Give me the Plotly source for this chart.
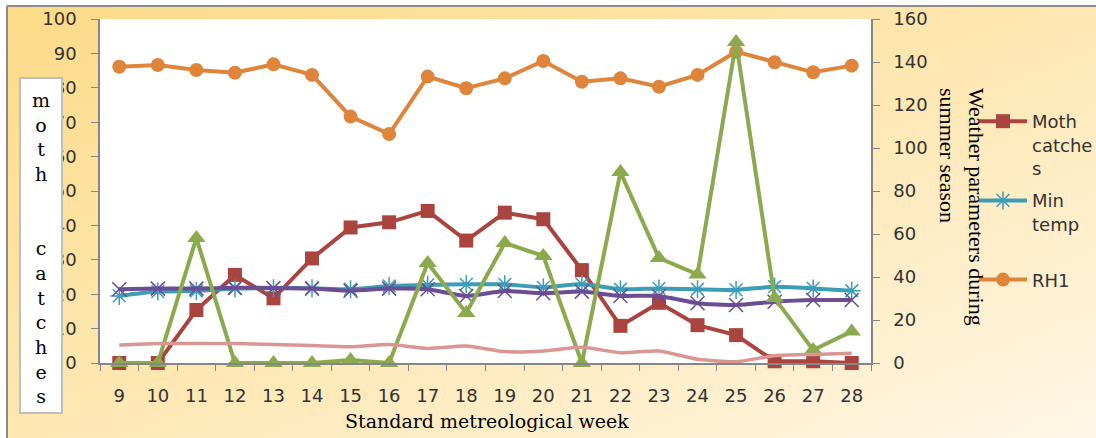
import base64
import plotly.graph_objects as go

# Standard meteorological weeks (summer season)
weeks = [str(w) for w in range(9, 29)]

# Moth catches per week (left axis)
moth_catches = [0, 0, 15.4, 25.6, 18.8, 30.4, 39.4, 40.9, 44.2, 35.6,
                43.7, 41.8, 27.0, 10.8, 17.5, 11.0, 8.1, 0.5, 0.5, 0]

# Weather parameters (right axis)
min_temp = [31.2, 33.2, 33.5, 34.6, 34.8, 34.8, 34.3, 35.8, 36.3, 36.6,
            36.6, 35.2, 36.7, 34.3, 34.7, 34.3, 34.0, 35.5, 34.7, 33.6]
rh1 = [137.8, 138.6, 136.3, 135.0, 138.9, 134.0, 114.6, 106.5, 133.2, 127.8,
       132.4, 140.5, 130.8, 132.4, 128.5, 134.0, 144.8, 139.9, 135.2, 138.3]
max_temp = [34.3, 34.6, 34.6, 35.0, 34.9, 34.6, 33.6, 34.6, 34.3, 31.2,
            33.5, 32.4, 33.2, 31.2, 31.2, 27.8, 27.0, 28.5, 29.3, 29.3]
rainfall = [0, 0, 58.1, 0, 0, 0, 1.4, 0, 46.5, 23.3,
            55.8, 49.8, 0, 88.8, 48.8, 41.2, 149.3, 30.2, 6.0, 14.7]
wind_speed = [8.4, 9.1, 9.1, 9.1, 8.6, 8.1, 7.6, 8.6, 6.8, 7.9,
              5.3, 5.6, 7.3, 4.8, 5.6, 1.7, 0.6, 3.4, 4.0, 4.5]

W, H = 1096, 438
ML, MR, MT, MB = 100, 225, 19, 75
PW, PH = W - ML - MR, H - MT - MB


def px(x):
    return (x - ML) / PW


def py(y):
    return (H - MB - y) / PH


SANS = "DejaVu Sans"
SERIF = "DejaVu Serif"
TEXT = "#333333"
AXIS = "#868686"

fig = go.Figure()

fig.add_trace(go.Scatter(
    x=weeks, y=moth_catches, name="Moth<br>catche<br>s", legendgroup="a",
    mode="lines+markers", cliponaxis=False,
    line=dict(color="#A9443F", width=4),
    marker=dict(symbol="square", size=14, color="#A9443F"),
))
fig.add_trace(go.Scatter(
    x=weeks, y=min_temp, name="Min<br>temp<br> ", legendgroup="b", yaxis="y2",
    mode="lines+markers", cliponaxis=False,
    line=dict(color="#3D9DB7", width=4, shape="spline", smoothing=0.6),
    marker=dict(symbol="asterisk-open", size=15,
                line=dict(color="#4BACC6", width=1.5)),
))
fig.add_trace(go.Scatter(
    x=weeks, y=rh1, name="RH1", legendgroup="c", yaxis="y2",
    mode="lines+markers", cliponaxis=False,
    line=dict(color="#DF843B", width=4),
    marker=dict(symbol="circle", size=14, color="#DF843B"),
))
fig.add_trace(go.Scatter(
    x=weeks, y=max_temp, name="Max temp", showlegend=False, yaxis="y2",
    mode="lines+markers", cliponaxis=False,
    line=dict(color="#6B4D95", width=4, shape="spline", smoothing=0.6),
    marker=dict(symbol="x-thin-open", size=14,
                line=dict(color="#A08CC6", width=1.5)),
))
fig.add_trace(go.Scatter(
    x=weeks, y=rainfall, name="Rainfall", showlegend=False, yaxis="y2",
    mode="lines+markers", cliponaxis=False,
    line=dict(color="#8BA94D", width=4),
    marker=dict(symbol="triangle-up", size=16, color="#8BA94D"),
))
fig.add_trace(go.Scatter(
    x=weeks, y=wind_speed, name="Wind speed", showlegend=False, yaxis="y2",
    mode="lines", cliponaxis=False,
    line=dict(color="#D99694", width=3.5, shape="spline", smoothing=0.6),
))

# Diagonal warm gradient behind the whole chart
svg = ("<svg xmlns='http://www.w3.org/2000/svg' width='1090' height='433' "
       "viewBox='0 0 1090 433' preserveAspectRatio='none'><defs>"
       "<linearGradient id='g' x1='0' y1='0' x2='1' y2='1'>"
       "<stop offset='0' stop-color='#FCDB88'/>"
       "<stop offset='0.5' stop-color='#FEE7B2'/>"
       "<stop offset='1' stop-color='#FFF6E6'/>"
       "</linearGradient></defs>"
       "<rect width='1090' height='433' fill='url(#g)'/></svg>")
svg_uri = "data:image/svg+xml;base64," + base64.b64encode(svg.encode()).decode()

shapes = [
    # white plotting area
    dict(type="rect", xref="paper", yref="paper", x0=0, x1=1, y0=0, y1=1,
         fillcolor="white", line=dict(width=0), layer="below"),
    # chart frame (top and left edges)
    dict(type="line", xref="paper", yref="paper",
         x0=px(7), x1=px(W + 5), y0=py(6), y1=py(6),
         line=dict(color="#8C8C8C", width=2), layer="above"),
    dict(type="line", xref="paper", yref="paper",
         x0=px(7), x1=px(7), y0=py(6), y1=py(H + 5),
         line=dict(color="#8C8C8C", width=2), layer="above"),
    # box holding the left axis title
    dict(type="rect", xref="paper", yref="paper",
         x0=px(20), x1=px(62), y0=py(413), y1=py(78),
         fillcolor="white", line=dict(color="#BFBFBF", width=2), layer="above"),
]

annotations = [
    dict(text="m<br>o<br>t<br>h<br><br><br>c<br>a<br>t<br>c<br>h<br>e<br>s",
         xref="paper", yref="paper", x=px(41), y=py(248),
         xanchor="center", yanchor="middle", showarrow=False,
         font=dict(family=SERIF, size=19, color="black")),
    dict(text="Weather parameters during<br>summer season", align="left",
         xref="paper", yref="paper", x=px(962), y=py(207), textangle=90,
         xanchor="center", yanchor="middle", showarrow=False,
         font=dict(family="Liberation Serif", size=22, color="black")),
    dict(text="Standard metreological week",
         xref="paper", yref="paper", x=px(487), y=py(421),
         xanchor="center", yanchor="middle", showarrow=False,
         font=dict(family=SERIF, size=19, color="black")),
]

fig.update_layout(
    width=W, height=H,
    margin=dict(l=ML, r=MR, t=MT, b=MB, autoexpand=False),
    paper_bgcolor="white", plot_bgcolor="white",
    images=[dict(source=svg_uri, xref="paper", yref="paper",
                 x=px(7), y=py(6), sizex=(W - 7) / PW, sizey=(H - 6) / PH,
                 xanchor="left", yanchor="top", sizing="stretch", layer="below")],
    shapes=shapes,
    annotations=annotations,
    xaxis=dict(type="category", range=[-0.5, 19.5], showgrid=False,
               showline=True, linecolor=AXIS, linewidth=1.5,
               ticks="outside", tickson="boundaries", ticklen=6, tickcolor=AXIS,
               ticklabelstandoff=16,
               tickfont=dict(family=SANS, size=18, color=TEXT)),
    yaxis=dict(range=[0, 100], dtick=10, showgrid=False, zeroline=False,
               showline=True, linecolor=AXIS, linewidth=1.5,
               ticks="outside", ticklen=7, tickcolor=AXIS,
               ticklabelstandoff=11,
               tickfont=dict(family=SANS, size=18, color=TEXT)),
    yaxis2=dict(range=[0, 160], dtick=20, overlaying="y", side="right",
                showgrid=False, zeroline=False,
                showline=True, linecolor=AXIS, linewidth=1.5,
                ticks="outside", ticklen=7, tickcolor=AXIS,
                ticklabelstandoff=10,
                tickfont=dict(family=SANS, size=18, color=TEXT)),
    legend=dict(x=px(974), y=py(103), xanchor="left", yanchor="top",
                bgcolor="rgba(0,0,0,0)", valign="top", tracegroupgap=6,
                itemwidth=48,
                font=dict(family=SANS, size=18, color=TEXT)),
    showlegend=True,
)

fig.write_html("out.html")
